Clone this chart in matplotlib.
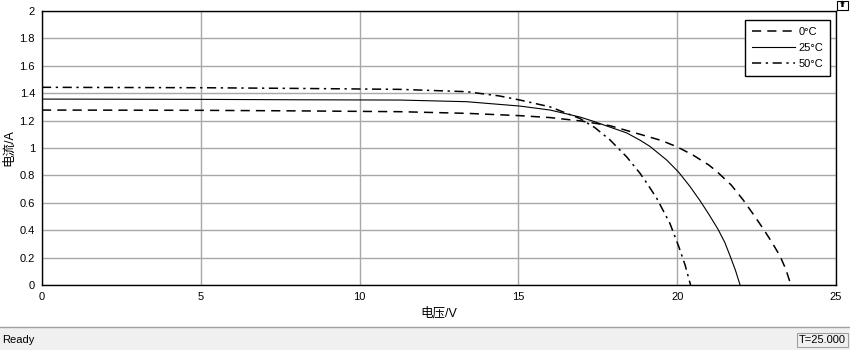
import matplotlib
matplotlib.use('Agg')
import matplotlib.pyplot as plt
from matplotlib.patches import Rectangle

plt.rcParams['font.family'] = ['Liberation Sans', 'Noto Sans CJK SC', 'DejaVu Sans']

# I-V curves
v_0c = [0, 5, 8, 11.27, 13.37, 15.05, 16.0, 16.94, 17.88, 18.83, 19.5, 20.0, 20.5, 21.0, 21.24,
        21.7, 22.08, 22.4, 22.71, 23.0, 23.24, 23.42, 23.58]
i_0c = [1.277, 1.275, 1.271, 1.265, 1.253, 1.236, 1.222, 1.198, 1.163, 1.10, 1.055, 1.008, 0.948, 0.875, 0.83,
        0.73, 0.62, 0.515, 0.41, 0.305, 0.21, 0.115, 0.0]

v_25c = [0, 5, 8, 11.27, 13.37, 15.05, 16.0, 16.94, 17.36, 18.41, 18.83, 19.14, 19.67, 20.04,
         20.4, 20.72, 21.0, 21.29, 21.5, 21.66, 21.83, 21.98]
i_25c = [1.357, 1.355, 1.352, 1.35, 1.338, 1.306, 1.277, 1.226, 1.195, 1.11, 1.057, 1.012, 0.912, 0.825,
         0.72, 0.615, 0.515, 0.405, 0.31, 0.215, 0.11, 0.0]

v_50c = [0, 5, 8, 11.27, 13.37, 14.4, 15.05, 16.0, 16.94, 17.4, 17.88, 18.41, 18.83, 19.04,
         19.35, 19.77, 20.05, 20.25, 20.42]
i_50c = [1.443, 1.44, 1.435, 1.428, 1.411, 1.38, 1.35, 1.30, 1.215, 1.15, 1.06, 0.935, 0.815, 0.745,
         0.635, 0.45, 0.28, 0.145, 0.0]

labels = ['0°C', '25°C', '50°C']

fig = plt.figure(figsize=(8.5, 3.5), dpi=100)
ax = fig.add_axes([42 / 850, 65 / 350, 794 / 850, 274 / 350])

ax.plot(v_0c, i_0c, color='black', lw=1.1, ls=(0, (6, 4)), label=labels[0])
ax.plot(v_25c, i_25c, color='black', lw=0.8, ls='-', label=labels[1])
ax.plot(v_50c, i_50c, color='black', lw=1.1, ls=(0, (6, 3, 1.5, 3)), label=labels[2])

ax.set_xlim(0, 25)
ax.set_ylim(0, 2)
ax.set_xticks([0, 5, 10, 15, 20, 25])
ax.set_yticks([0, 0.2, 0.4, 0.6, 0.8, 1, 1.2, 1.4, 1.6, 1.8, 2])
ax.set_yticklabels(['0', '0.2', '0.4', '0.6', '0.8', '1', '1.2', '1.4', '1.6', '1.8', '2'])
ax.tick_params(direction='in', labelsize=8, length=0, pad=5)
ax.grid(True, color='#a8a8a8', lw=1)
ax.set_axisbelow(True)
for s in ax.spines.values():
    s.set_color('black')
    s.set_linewidth(1)

ax.set_xlabel('电压/V', fontsize=9, labelpad=4)
ax.set_ylabel('电流/A', fontsize=9, labelpad=3)

leg = ax.legend(loc='upper right', bbox_to_anchor=(830 / 850, 1 - 20 / 350),
                bbox_transform=fig.transFigure, borderaxespad=0,
                fontsize=8, frameon=True, fancybox=False, edgecolor='black', framealpha=1,
                handlelength=3.9, handletextpad=0.3, borderpad=0.6, labelspacing=0.55)
leg.get_frame().set_linewidth(1)

# status bar at the bottom
fig.patches.append(Rectangle((0, 0), 1, 22 / 350, transform=fig.transFigure,
                             facecolor='#f0f0f0', edgecolor='none', zorder=0))
fig.lines.append(plt.Line2D([0, 1], [23 / 350, 23 / 350], transform=fig.transFigure,
                            color='#a0a0a0', lw=1))
fig.text(2 / 850, 10 / 350, 'Ready', fontsize=8, va='center', ha='left')
fig.text(846 / 850, 10 / 350, 'T=25.000', fontsize=8, va='center', ha='right',
         bbox=dict(boxstyle='square,pad=0.2', facecolor='#f0f0f0', edgecolor='#a0a0a0', lw=0.8))

# small toolbar icon top-right
fig.patches.append(Rectangle((837 / 850, 1 - 10 / 350), 11 / 850, 9 / 350, transform=fig.transFigure,
                             facecolor='white', edgecolor='black', lw=0.8))
fig.text(842.5 / 850, 1 - 5.5 / 350, '⬆', fontsize=5, ha='center', va='center')

fig.savefig('out.png', dpi=100)
